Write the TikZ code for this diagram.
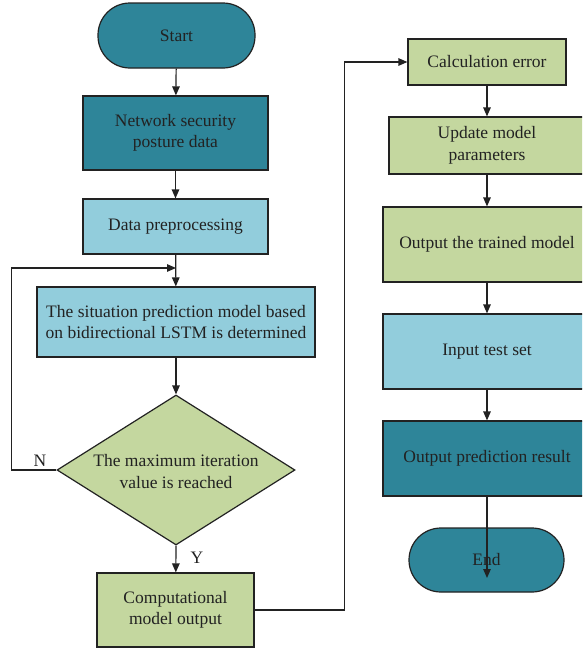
\documentclass[tikz,border=0pt]{standalone}
\usepackage{fontspec}
\setmainfont{Liberation Serif}
\usetikzlibrary{shapes.geometric,arrows.meta}
\definecolor{tealD}{HTML}{2E8599}
\definecolor{aquaL}{HTML}{92CDDC}
\definecolor{oliveL}{HTML}{C4D79F}
\definecolor{ink}{HTML}{222222}
\begin{document}
\begin{tikzpicture}[x=1pt,y=-1pt,
  box/.style={draw=ink, line width=1.2pt, text=ink, align=center, inner sep=0pt,
    font=\fontsize{17.5}{21.5}\selectfont},
  term/.style={box, fill=tealD, rounded corners=32pt},
  dark/.style={box, fill=tealD},
  light/.style={box, fill=aquaL},
  green/.style={box, fill=oliveL},
  conn/.style={draw=ink, line width=1.2pt, -{Triangle[length=9pt,width=7.5pt]}},
  lbl/.style={text=ink, inner sep=0pt, font=\fontsize{17.5}{21}\selectfont}]
\useasboundingbox (0,0) rectangle (582,648);
\clip (0,0) rectangle (582,648);
\fill[white] (0,0) rectangle (582,648);
% left column
\node[term, minimum width=157pt, minimum height=65pt] (start) at (176.5,35.5) {\raisebox{-1.5pt}{Start}};
\node[dark, minimum width=185pt, minimum height=74pt] (net) at (175.5,133) {Network security\\posture data};
\node[light, minimum width=185pt, minimum height=55pt] (prep) at (175.5,226.5) {\raisebox{-1pt}{Data preprocessing}};
\node[light, minimum width=278pt, minimum height=70pt] (sit) at (176,322) {The situation prediction model based\\on bidirectional LSTM is determined};
\node[diamond, draw=ink, line width=1.2pt, fill=oliveL, minimum width=238pt, minimum height=150pt, inner sep=0pt] (dia) at (176,470) {};
\node[lbl, align=center, font=\fontsize{17.5}{22}\selectfont] (diatext) at (176,471.5) {The maximum iteration\\value is reached};
\node[green, minimum width=157pt, minimum height=74pt] (comp) at (175.5,610) {Computational\\model output};
% right column
\node[green, minimum width=158pt, minimum height=46pt] (calc) at (487,62) {\raisebox{-1pt}{Calculation error}};
\node[green, minimum width=196pt, minimum height=57pt] (upd) at (487,145.5) {Update model\\parameters};
\node[green, minimum width=208pt, minimum height=75pt] (trained) at (487,244.5) {\raisebox{-1pt}{Output the trained model}};
\node[light, minimum width=208pt, minimum height=75pt] (input) at (487,351.5) {\raisebox{-1pt}{Input test set}};
\node[dark, minimum width=208pt, minimum height=75pt] (outp) at (487,458.5) {\raisebox{-1pt}{Output prediction result}};
\node[term, minimum width=155pt, minimum height=64pt] (end) at (486.5,560) {End};
% labels
\node[lbl] (nlab) at (40,461) {N};
\node[lbl] (ylab) at (197,558) {Y};
% connectors
\coordinate (loopend) at (176,268);
\coordinate (endtip) at (487,578);
\draw[conn] (start) -- (net);
\draw[conn] (net) -- (prep);
\draw[conn] (prep) -- (sit);
\draw[conn] (sit) -- (dia.north);
\draw[conn] (dia.south) -- (comp);
\draw[conn] (dia.west) -- ++(-45,0) |- (loopend);
\draw[conn] (comp.east) -- ++(90,0) |- (calc.west);
\draw[conn] (calc) -- (upd);
\draw[conn] (upd) -- (trained);
\draw[conn] (trained) -- (input);
\draw[conn] (input) -- (outp);
\draw[conn] (outp.south) -- (endtip);
\end{tikzpicture}
\end{document}
